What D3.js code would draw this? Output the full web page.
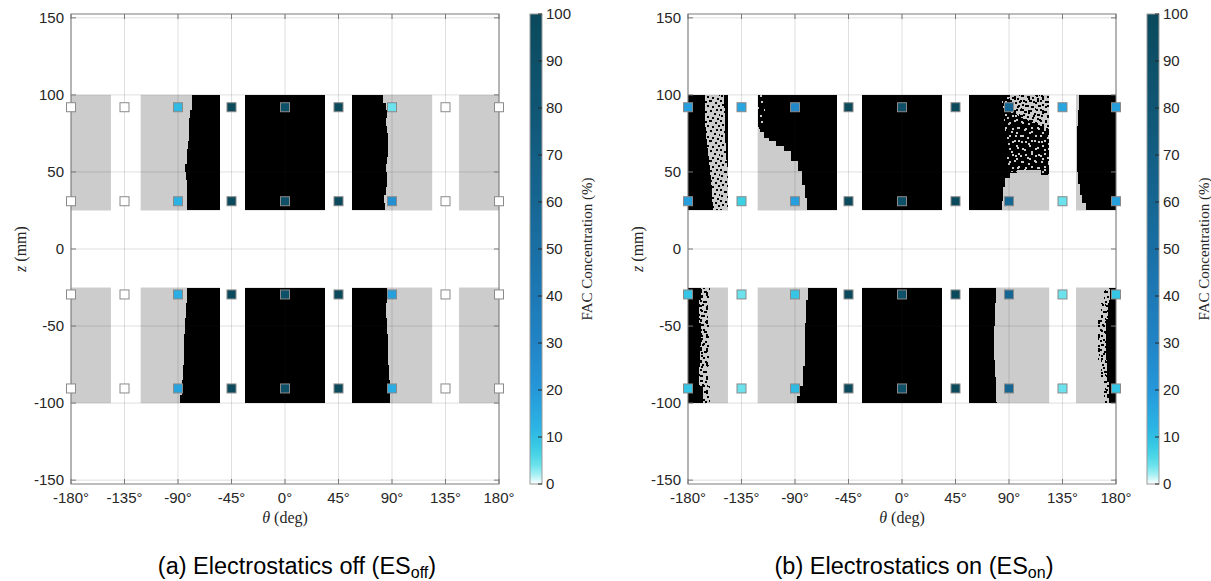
<!DOCTYPE html>
<html>
<head>
<meta charset="utf-8">
<script src="https://cdn.jsdelivr.net/npm/d3@7"></script>
<style>
  body { margin: 0; background: #fff; }
  svg { display: block; }
</style>
</head>
<body>
<div class="canvas"></div>
<script>
// ticks
const thetaTicks = [-180, -135, -90, -45, 0, 45, 90, 135, 180];
const zTicks = [-150, -100, -50, 0, 50, 100, 150];
const cbTicks = [0, 10, 20, 30, 40, 50, 60, 70, 80, 90, 100];

// probe positions and FAC concentration (%), rows = probeZ, cols = probeTheta
const probeTheta = [-180, -135, -90, -45, 0, 45, 90, 135, 180];
const probeZ = [92, 31, -29.5, -90.5];
const facOff = [
  [0, 0, 11, 99, 90, 99, 4, 0, 0],
  [0, 0, 13, 99, 90, 99, 24, 0, 0],
  [0, 0, 14, 99, 90, 99, 18, 0, 0],
  [0, 0, 17, 99, 90, 99, 14, 0, 0],
];
const facOn = [
  [18, 16, 28, 99, 90, 99, 60, 16, 18],
  [18, 7, 18, 99, 90, 99, 60, 4, 18],
  [9, 4, 9, 99, 90, 99, 60, 4, 9],
  [9, 4, 11, 99, 90, 99, 60, 4, 9],
];

// electrode spans (deg) and z bands (mm)
const electrodeSpans = [[-180, -146.4], [-121.4, -54.7], [-33.4, 33.4], [56.6, 123.8], [146.4, 180]];
const zBandTop = [25, 100];
const zBandBot = [-100, -25];

// black/gray boundaries, [z, theta]
const offTopW = [[100, -78.2], [95, -77.5], [90, -79.3], [85, -79.9], [80, -81], [75, -79.9], [70, -80.8], [65, -82.7], [60, -82], [55, -83.6], [50, -83.8], [45, -82.7], [40, -82.4], [35, -82.2], [30, -82.7], [25, -82.7]];
const offTopE = [[100, 81], [95, 84], [90, 86], [85, 85.5], [80, 85], [75, 86.5], [70, 86.9], [65, 86], [60, 86.7], [55, 85.5], [50, 85], [45, 85.8], [40, 85.2], [35, 84], [30, 83.3], [25, 85]];
const offBotW = [[-25, -82], [-35, -83], [-45, -84], [-55, -84.5], [-65, -85], [-75, -85.5], [-85, -86], [-95, -87], [-100, -90]];
const offBotE = [[-25, 86], [-35, 85.5], [-45, 85], [-55, 86], [-65, 86.5], [-75, 87], [-85, 88], [-95, 89], [-100, 88]];

const onTopP1L = [[100, -166], [90, -166], [75, -165], [65, -163.5], [55, -162], [40, -160], [25, -159]];
const onTopP1R = [[100, -149.5], [80, -149], [60, -148], [52, -146.4], [25, -146.4]];
const onTopP2 = [[78, -121.4], [76, -118], [72, -114], [70, -109.4], [66.7, -102.4], [63.4, -96.8], [57, -89.8], [50.4, -85.6], [41.8, -82.3], [33, -80.6], [25, -78.7]];
const onTopP2Spk = [[100, -121.4], [100, -116], [90, -115], [78, -114], [78, -121.4]];
const onTopP4Mix = [[100, 84], [87, 85], [72, 88], [57, 88], [50, 90.7], [48, 123.8], [100, 123.8]];
const onTopP4Spk = [[100, 90], [100, 123.8], [78, 123.8], [82, 110], [86, 98], [92, 92]];
const onTopP4Low = [[48, 123.8], [51, 110], [51, 100], [49, 93], [46, 88], [40, 85.6], [31, 84.7], [25, 83.7]];
const onTopP5 = [[100, 149], [90, 148.5], [80, 147.5], [70, 147], [60, 147.2], [50, 147.5], [42, 148.5], [35, 150.5], [30, 153], [25, 156.5]];

const onBotP1 = [[-25, -166.8], [-33, -171], [-48, -170], [-63, -168.2], [-76, -171], [-89, -170], [-100, -164]];
const onBotP1Spk = [[-25, -160], [-33, -163], [-48, -163], [-63, -161], [-76, -164], [-89, -163], [-100, -160]];
const onBotP2 = [[-25, -78.7], [-33, -80.1], [-48, -81.5], [-63, -81.5], [-76, -82.3], [-89, -85], [-95.5, -87.4], [-100, -88.7]];
const onBotP4 = [[-25, 79.5], [-35, 78.1], [-50, 78.1], [-61, 76.7], [-72, 78.1], [-83, 78.1], [-99, 79.5], [-100, 79.5]];
const onBotP5 = [[-25, 171.9], [-35, 167.7], [-46, 166.3], [-57, 164], [-72, 166.3], [-85, 167.7], [-100, 171.9]];
const onBotP5Solid = [[-25, 176], [-35, 174], [-46, 172.5], [-57, 171], [-72, 172], [-85, 173], [-100, 176]];

// colormap stops
const cmapStops = [0, 3, 7, 12, 20, 30, 45, 60, 80, 100];
const cmapColors = ["#ffffff", "#7ae8ef", "#3cd0e4", "#2cb4e4", "#2598da", "#2184c6", "#1b74ad", "#166693", "#105674", "#0a495b"];

// layout
const w = 1211;
const h = 581;
const plotW = 428;
const gray = "#cccccc";
const axisColor = "#7a7a7a";
const textColor = "#262626";

const svg = d3.select(".canvas").append("svg").attr("width", w).attr("height", h);
const defs = svg.append("defs");

const y = d3.scaleLinear().domain([-152.5, 152.5]).range([484, 14]);
const cmap = d3.scaleLinear().domain(cmapStops).range(cmapColors);
const cbY = d3.scaleLinear().domain([0, 100]).range([484, 14]);

// speckle textures (two tile sizes layered so the dots don't look regular)
function dotPattern(id, size, color, dots) {
  const p = defs.append("pattern").attr("id", id).attr("patternUnits", "userSpaceOnUse")
    .attr("width", size).attr("height", size);
  p.selectAll("rect").data(dots).enter().append("rect")
    .attr("x", (d) => d[0]).attr("y", (d) => d[1])
    .attr("width", (d) => d[2] || 2).attr("height", 2).attr("fill", color);
}
dotPattern("spkA", 20, "#000", [[0, 0], [5, 1], [9, 0, 3], [15, 2], [18, 5], [2, 4], [7, 5], [12, 6], [16, 9], [0, 9], [4, 11, 3], [10, 10], [14, 13], [19, 14, 1], [1, 15], [7, 16], [12, 17], [17, 18]]);
dotPattern("spkC", 14, "#000", [[1, 2], [6, 0], [11, 3], [3, 7], [9, 8], [13, 10, 1], [0, 11], [6, 12]]);
dotPattern("spkG", 20, gray, [[1, 1], [8, 3], [14, 0], [17, 7], [4, 9], [11, 11], [0, 15], [7, 17], [15, 15]]);
dotPattern("spkG2", 13, gray, [[2, 2], [8, 5], [4, 10], [11, 11]]);

// colorbar gradient
const grad = defs.append("linearGradient").attr("id", "cbGrad")
  .attr("x1", 0).attr("y1", 1).attr("x2", 0).attr("y2", 0);
grad.selectAll("stop").data(d3.range(0, 101, 2)).enter().append("stop")
  .attr("offset", (d) => d / 100).attr("stop-color", (d) => cmap(d));

// region path builders
const stepRegion = (boundary, edge) => (x) => {
  const l = d3.line().x((d) => x(d[1])).y((d) => y(d[0])).curve(d3.curveStep);
  const z0 = boundary[0][0];
  const z1 = boundary[boundary.length - 1][0];
  return l(boundary) + `L${x(edge)},${y(z1)}L${x(edge)},${y(z0)}Z`;
};
const polyRegion = (pts) => (x) => d3.line().x((d) => x(d[1])).y((d) => y(d[0]))(pts) + "Z";
const bandRegion = (left, right) => polyRegion(left.concat(right.slice().reverse()));
const fullRegion = (i, band) => polyRegion([
  [band[1], electrodeSpans[i][0]], [band[1], electrodeSpans[i][1]],
  [band[0], electrodeSpans[i][1]], [band[0], electrodeSpans[i][0]],
]);

const panels = [
  {
    left: 71,
    fac: facOff,
    caption: ["(a) Electrostatics off (ES", "off", ")"],
    regions: [
      { path: fullRegion(2, zBandTop), fills: ["#000"] },
      { path: fullRegion(2, zBandBot), fills: ["#000"] },
      { path: stepRegion(offTopW, -54.7), fills: ["#000"] },
      { path: stepRegion(offTopE, 56.6), fills: ["#000"] },
      { path: stepRegion(offBotW, -54.7), fills: ["#000"] },
      { path: stepRegion(offBotE, 56.6), fills: ["#000"] },
    ],
  },
  {
    left: 688,
    fac: facOn,
    caption: ["(b) Electrostatics on (ES", "on", ")"],
    regions: [
      { path: fullRegion(0, zBandTop), fills: ["#000"] },
      { path: bandRegion(onTopP1L, onTopP1R), fills: [gray, "url(#spkA)"] },
      { path: fullRegion(1, zBandTop), fills: ["#000"] },
      { path: stepRegion(onTopP2, -121.4), fills: [gray] },
      { path: polyRegion(onTopP2Spk), fills: ["url(#spkG)"] },
      { path: fullRegion(2, zBandTop), fills: ["#000"] },
      { path: fullRegion(3, zBandTop), fills: ["#000"] },
      { path: polyRegion(onTopP4Mix), fills: ["url(#spkG)", "url(#spkG2)"] },
      { path: polyRegion(onTopP4Spk), fills: [gray, "url(#spkA)", "url(#spkC)"] },
      { path: stepRegion(onTopP4Low, 123.8), fills: [gray] },
      { path: fullRegion(4, zBandTop), fills: ["#000"] },
      { path: stepRegion(onTopP5, 146.4), fills: [gray] },
      { path: stepRegion(onBotP1Spk, -180), fills: ["url(#spkA)", "url(#spkC)"] },
      { path: stepRegion(onBotP1, -180), fills: ["#000"] },
      { path: stepRegion(onBotP2, -54.7), fills: ["#000"] },
      { path: fullRegion(2, zBandBot), fills: ["#000"] },
      { path: stepRegion(onBotP4, 56.6), fills: ["#000"] },
      { path: stepRegion(onBotP5, 180), fills: ["url(#spkA)", "url(#spkC)"] },
      { path: stepRegion(onBotP5Solid, 180), fills: ["#000"] },
    ],
  },
];

panels.forEach((p) => {
  const x = d3.scaleLinear().domain([-180, 180]).range([p.left, p.left + plotW]);
  const g = svg.append("g");

  // electrode patches (gray base)
  [zBandTop, zBandBot].forEach((band) => {
    g.append("g").selectAll("rect").data(electrodeSpans).enter().append("rect")
      .attr("x", (d) => x(d[0])).attr("width", (d) => x(d[1]) - x(d[0]))
      .attr("y", y(band[1])).attr("height", y(band[0]) - y(band[1]))
      .attr("fill", gray);
  });

  // black / speckled regions
  p.regions.forEach((r) => {
    const d = r.path(x);
    r.fills.forEach((f) => g.append("path").attr("d", d).attr("fill", f).attr("shape-rendering", "crispEdges"));
  });

  // grid
  const grid = g.append("g").attr("stroke", "#262626").attr("stroke-opacity", 0.15);
  grid.selectAll(".gx").data(thetaTicks).enter().append("line")
    .attr("x1", (d) => x(d)).attr("x2", (d) => x(d)).attr("y1", y(152.5)).attr("y2", y(-152.5));
  grid.selectAll(".gy").data(zTicks).enter().append("line")
    .attr("x1", x(-180)).attr("x2", x(180)).attr("y1", (d) => y(d)).attr("y2", (d) => y(d));

  // axes box + inward ticks
  const ax = g.append("g").attr("stroke", axisColor).attr("fill", "none");
  ax.append("rect").attr("x", x(-180)).attr("y", y(152.5))
    .attr("width", x(180) - x(-180)).attr("height", y(-152.5) - y(152.5));
  thetaTicks.forEach((t) => {
    ax.append("line").attr("x1", x(t)).attr("x2", x(t)).attr("y1", y(-152.5)).attr("y2", y(-152.5) - 5);
    ax.append("line").attr("x1", x(t)).attr("x2", x(t)).attr("y1", y(152.5)).attr("y2", y(152.5) + 5);
  });
  zTicks.forEach((t) => {
    ax.append("line").attr("x1", x(-180)).attr("x2", x(-180) + 5).attr("y1", y(t)).attr("y2", y(t));
    ax.append("line").attr("x1", x(180)).attr("x2", x(180) - 5).attr("y1", y(t)).attr("y2", y(t));
  });

  // tick labels
  g.append("g").selectAll("text").data(thetaTicks).enter().append("text")
    .attr("x", (d) => x(d)).attr("y", 503).attr("text-anchor", "middle")
    .attr("font-family", "Liberation Sans, Arial, sans-serif").attr("font-size", 15).attr("fill", textColor)
    .text((d) => `${d}°`);
  g.append("g").selectAll("text").data(zTicks).enter().append("text")
    .attr("x", x(-180) - 7).attr("y", (d) => y(d) + 5).attr("text-anchor", "end")
    .attr("font-family", "Liberation Sans, Arial, sans-serif").attr("font-size", 15).attr("fill", textColor)
    .text((d) => String(d));

  // axis labels
  const xl = g.append("text").attr("x", x(0)).attr("y", 523).attr("text-anchor", "middle")
    .attr("font-family", "Liberation Serif, serif").attr("font-size", 16).attr("fill", textColor);
  xl.append("tspan").attr("font-style", "italic").text("θ");
  xl.append("tspan").text(" (deg)");
  const yl = g.append("text").attr("transform", `translate(${x(-180) - 45},${y(0)}) rotate(-90)`)
    .attr("text-anchor", "middle").attr("font-family", "Liberation Serif, serif").attr("font-size", 16).attr("fill", textColor);
  yl.append("tspan").attr("font-style", "italic").text("z");
  yl.append("tspan").text(" (mm)");

  // probes
  const probes = [];
  probeZ.forEach((z, i) => probeTheta.forEach((t, j) => probes.push({ t, z, v: p.fac[i][j] })));
  g.append("g").selectAll("rect").data(probes).enter().append("rect")
    .attr("x", (d) => x(d.t) - 4.5).attr("y", (d) => y(d.z) - 4.5)
    .attr("width", 9).attr("height", 9)
    .attr("fill", (d) => cmap(d.v)).attr("stroke", "#8a8a8a").attr("stroke-width", 1);

  // colorbar
  const cbx = x(180) + 31;
  const cb = g.append("g");
  cb.append("rect").attr("x", cbx).attr("y", cbY(100)).attr("width", 12).attr("height", cbY(0) - cbY(100))
    .attr("fill", "url(#cbGrad)").attr("stroke", "#9a9a9a");
  cb.selectAll("line").data(cbTicks).enter().append("line")
    .attr("x1", cbx + 8).attr("x2", cbx + 12).attr("y1", (d) => cbY(d)).attr("y2", (d) => cbY(d))
    .attr("stroke", textColor);
  cb.selectAll("text").data(cbTicks).enter().append("text")
    .attr("x", cbx + 16).attr("y", (d) => cbY(d) + 5)
    .attr("font-family", "Liberation Sans, Arial, sans-serif").attr("font-size", 15).attr("fill", textColor)
    .text((d) => d);
  cb.append("text").attr("transform", `translate(${cbx + 62},${y(0)}) rotate(-90)`)
    .attr("text-anchor", "middle").attr("font-family", "Liberation Serif, serif").attr("font-size", 15)
    .attr("fill", textColor).text("FAC Concentration (%)");

  // caption
  const cap = g.append("text").attr("x", x(0) + 12).attr("y", 574).attr("text-anchor", "middle")
    .attr("font-family", "Liberation Sans, Arial, sans-serif").attr("font-size", 23.5).attr("fill", "#000");
  cap.append("tspan").text(p.caption[0]);
  cap.append("tspan").attr("font-size", 16).attr("dy", 4).text(p.caption[1]);
  cap.append("tspan").attr("dy", -4).text(p.caption[2]);
});
</script>
</body>
</html>
